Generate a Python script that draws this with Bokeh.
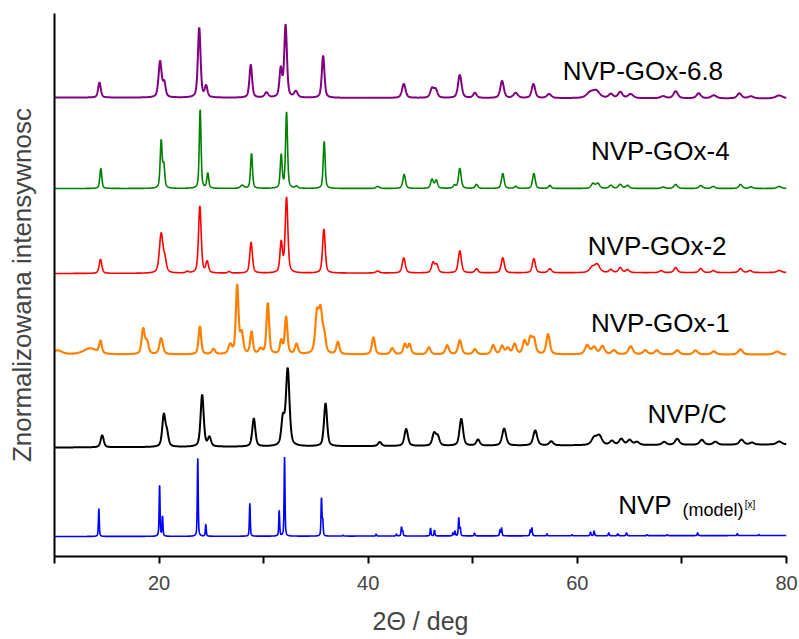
import numpy as np
from bokeh.plotting import figure
from bokeh.models import Range1d, FixedTicker, Label
from bokeh.embed import file_html
from bokeh.resources import INLINE

# ---------------- data ----------------
two_theta_min, two_theta_max = 10, 80
x_ticks = [10, 20, 30, 40, 50, 60, 70, 80]
x_tick_labels = {10: "", 20: "20", 30: "", 40: "40", 50: "", 60: "60", 70: "", 80: "80"}
x_title = "2\u0398 / deg"
y_title = "Znormalizowana intensywnosc"

series_names = ["NVP-GOx-6.8", "NVP-GOx-4", "NVP-GOx-2", "NVP-GOx-1", "NVP/C", "NVP"]
series_colors = ["#800080", "#008000", "#ff0000", "#ff8000", "#000000", "#0000ff"]
# baseline level at 2θ=10 and at 2θ=80 (stacked offsets, arbitrary units)
baseline_left = [459, 368, 283, 202, 109, 20]
baseline_right = [458, 368, 284, 202, 112, 21]

# peaks: (2θ position, height, FWHM)
purple_peaks = [
    (14.3, 15, 0.3), (20.1, 36, 0.35), (20.5, 14, 0.3), (23.84, 70, 0.3), (24.5, 11, 0.3),
    (28.77, 33, 0.3), (30.27, 5, 0.4), (31.64, 28, 0.3), (32.1, 72, 0.3), (33.08, 6, 0.4),
    (35.69, 42, 0.3), (43.4, 14, 0.4), (46.1, 9, 0.4), (46.45, 8, 0.4), (48.76, 23, 0.4),
    (50.2, 5, 0.4), (52.8, 17, 0.4), (54.1, 5, 0.5), (55.8, 14, 0.4), (57.3, 4, 0.5),
    (61.2, 5, 0.8), (61.8, 7, 0.8), (63.2, 4, 0.5), (64.1, 6, 0.5), (65.1, 4, 0.6),
    (68.2, 2, 0.6), (69.4, 7, 0.5), (71.6, 5, 0.5), (73.05, 3, 0.6), (75.5, 5, 0.5),
    (76.6, 2, 0.6), (79.3, 3, 0.8),
]
green_peaks = [
    (14.43, 20, 0.22), (20.2, 47, 0.22), (20.45, 22, 0.22), (23.93, 79, 0.2), (24.66, 15, 0.22),
    (27.95, 3, 0.4), (28.84, 35, 0.22), (31.68, 33, 0.22), (32.19, 76, 0.22), (33.14, 2, 0.3),
    (35.79, 47, 0.22), (40.9, 2, 0.4), (43.44, 14, 0.3), (46.1, 9, 0.3), (46.5, 8, 0.3),
    (48.25, 3, 0.3), (48.76, 20, 0.3), (50.35, 4, 0.3), (52.87, 15, 0.3), (54.1, 2, 0.3),
    (55.84, 15, 0.3), (57.37, 3, 0.3), (61.5, 5, 0.4), (61.96, 5, 0.4), (63.2, 3, 0.4),
    (64.1, 4, 0.4), (64.8, 3, 0.4), (68.2, 1.5, 0.4), (69.4, 4, 0.4), (71.8, 3, 0.4),
    (73.0, 2, 0.4), (75.6, 4, 0.4), (76.6, 1.5, 0.4), (79.3, 2, 0.5),
]
red_peaks = [
    (14.4, 14, 0.3), (20.2, 39, 0.4), (20.55, 12, 0.35), (22.7, 1.5, 0.3), (23.9, 67, 0.3),
    (24.6, 11, 0.3), (26.7, 1.5, 0.3), (28.8, 31, 0.3), (31.68, 30, 0.28), (32.19, 75, 0.3),
    (35.76, 44, 0.3), (40.9, 2, 0.4), (43.4, 15, 0.35), (46.2, 10, 0.35), (46.55, 8, 0.35),
    (48.76, 22, 0.35), (50.35, 4, 0.35), (52.87, 15, 0.35), (55.84, 14, 0.35), (57.37, 4, 0.4),
    (61.4, 5, 0.6), (61.9, 8, 0.6), (63.2, 3, 0.4), (64.1, 5, 0.4), (64.8, 3, 0.4),
    (68.0, 2, 0.4), (69.4, 5, 0.4), (71.8, 4, 0.4), (73.0, 2, 0.4), (75.6, 4, 0.4),
    (76.5, 2, 0.4), (79.3, 2, 0.5),
]
orange_peaks = [
    (10.3, 4, 1.0), (13.4, 6, 1.5), (14.4, 12, 0.3), (18.48, 25, 0.35), (18.85, 12, 0.35),
    (20.2, 16, 0.4), (23.9, 28, 0.3), (25.2, 5, 0.4), (26.8, 9, 0.4), (27.47, 68, 0.3),
    (27.9, 20, 0.35), (28.84, 22, 0.3), (29.7, 5, 0.4), (30.4, 51, 0.3), (31.68, 13, 0.3),
    (32.15, 37, 0.3), (33.14, 10, 0.35), (35.1, 38, 0.4), (35.45, 40, 0.4), (35.8, 16, 0.35),
    (37.1, 12, 0.35), (40.5, 17, 0.35), (42.3, 6, 0.4), (43.5, 10, 0.35), (43.95, 10, 0.35),
    (45.8, 7, 0.4), (47.55, 9, 0.4), (48.76, 14, 0.4), (50.2, 5, 0.4), (51.95, 9, 0.4),
    (52.8, 8, 0.4), (53.35, 6, 0.4), (54.0, 10, 0.4), (54.95, 13, 0.4), (55.5, 15, 0.4),
    (55.85, 14, 0.4), (57.2, 20, 0.4), (60.94, 9, 0.5), (61.6, 7, 0.5), (62.4, 8, 0.5),
    (63.5, 4, 0.5), (65.1, 8, 0.5), (66.5, 4, 0.5), (67.6, 4, 0.5), (69.55, 4, 0.5),
    (71.3, 4, 0.5), (73.05, 3, 0.5), (75.6, 5, 0.5), (79.1, 3, 0.6),
]
black_peaks = [
    (14.56, 12, 0.35), (20.45, 31, 0.35), (20.75, 13, 0.35), (24.12, 52, 0.35), (24.82, 9, 0.35),
    (29.06, 28, 0.35), (31.84, 26, 0.35), (32.3, 77, 0.4), (35.92, 43, 0.35), (41.1, 4, 0.4),
    (43.63, 17, 0.4), (46.3, 12, 0.4), (46.65, 9, 0.4), (48.9, 27, 0.4), (50.5, 6, 0.4),
    (53.0, 17, 0.45), (55.97, 15, 0.45), (57.5, 4, 0.45), (61.6, 7, 0.6), (62.1, 9, 0.6),
    (63.3, 4, 0.5), (64.2, 6, 0.5), (65.0, 5, 0.5), (65.7, 3, 0.5), (68.3, 3, 0.5),
    (69.55, 6, 0.5), (71.9, 5, 0.5), (73.2, 3, 0.5), (75.7, 5, 0.5), (76.7, 2, 0.5),
    (79.3, 3, 0.6),
]
blue_peaks = [
    (14.24, 28, 0.1), (20.05, 52, 0.1), (20.33, 20, 0.1), (23.7, 78, 0.1), (24.47, 12, 0.1),
    (28.68, 33, 0.1), (31.49, 26, 0.1), (32.0, 79, 0.1), (35.53, 38, 0.1), (35.65, 15, 0.1),
    (37.6, 1, 0.1), (40.76, 2, 0.1), (42.7, 2, 0.1), (43.18, 9, 0.1), (43.3, 5, 0.1),
    (45.96, 8, 0.1), (46.34, 6, 0.1), (48.1, 3, 0.1), (48.3, 5, 0.1), (48.66, 18, 0.1),
    (48.8, 8, 0.1), (50.17, 3, 0.1), (52.6, 6, 0.1), (52.75, 8, 0.1), (55.5, 6, 0.1),
    (55.65, 8, 0.1), (57.1, 2, 0.1), (59.5, 1, 0.1), (61.26, 4, 0.1), (61.6, 5, 0.1),
    (63.0, 3, 0.1), (63.87, 2, 0.1), (64.7, 3, 0.1), (66.7, 1, 0.1), (68.6, 1, 0.1),
    (71.5, 3, 0.1), (75.3, 2, 0.1), (77.35, 1, 0.1),
]
all_peaks = [purple_peaks, green_peaks, red_peaks, orange_peaks, black_peaks, blue_peaks]
line_widths = [2.0, 1.6, 1.6, 2.2, 2.0, 1.6]

# label positions (2θ of left edge, baseline level)
label_x = [58.6, 61.3, 61.0, 61.3, 66.7, 63.9]
label_y = [471, 391, 296, 219, 128, 37]


def pattern(x, peaks, b0, b1):
    y = b0 + (b1 - b0) * (x - two_theta_min) / (two_theta_max - two_theta_min)
    for pos, h, w in peaks:
        hw = w / 2.0
        lor = 1.0 / (1.0 + ((x - pos) / hw) ** 2)
        gau = np.exp(-np.log(2) * ((x - pos) / hw) ** 2)
        y = y + h * (0.5 * lor + 0.5 * gau)
    return y


x = np.linspace(two_theta_min, two_theta_max, 3501)

FONT = "Liberation Sans"

p = figure(width=798, height=638, output_backend="svg", toolbar_location=None,
           x_range=Range1d(two_theta_min, two_theta_max), y_range=Range1d(0, 543),
           min_border_left=54, min_border_right=12, min_border_top=13, min_border_bottom=82)
p.outline_line_color = None
p.xgrid.visible = False
p.ygrid.visible = False
p.background_fill_color = "white"

for peaks, col, lw, b0, b1 in zip(all_peaks, series_colors, line_widths, baseline_left, baseline_right):
    p.line(x, pattern(x, peaks, b0, b1), line_color=col, line_width=lw)

# x axis
xa = p.xaxis[0]
xa.ticker = FixedTicker(ticks=x_ticks)
xa.major_label_overrides = x_tick_labels
xa.minor_tick_line_color = None
xa.major_tick_in = 0
xa.major_tick_out = 7
xa.major_tick_line_width = 2
xa.axis_line_width = 2
xa.major_label_text_font = FONT
xa.major_label_text_font_size = "20px"
xa.major_label_standoff = 12
xa.axis_label = x_title
xa.axis_label_text_font = FONT
xa.axis_label_text_font_size = "25px"
xa.axis_label_text_font_style = "normal"
xa.axis_label_standoff = 14

# y axis
ya = p.yaxis[0]
ya.ticker = FixedTicker(ticks=[])
ya.minor_tick_line_color = None
ya.major_tick_in = 0
ya.major_tick_out = 0
ya.axis_line_width = 2
ya.major_label_standoff = 0
ya.axis_label = y_title
ya.axis_label_text_font = FONT
ya.axis_label_text_font_size = "26px"
ya.axis_label_text_font_style = "normal"
ya.axis_label_standoff = 18

for name, lx, ly in zip(series_names, label_x, label_y):
    p.add_layout(Label(x=lx, y=ly, text=name, text_font=FONT, text_font_size="26px",
                       text_color="black"))

# extra pieces of the model label
p.add_layout(Label(x=70.05, y=37, text="(model)", text_font=FONT, text_font_size="18px",
                   text_color="black"))
p.add_layout(Label(x=76.0, y=47, text="[x]", text_font=FONT, text_font_size="10px",
                   text_color="black"))

open("out.html", "w").write(file_html(p, INLINE))
